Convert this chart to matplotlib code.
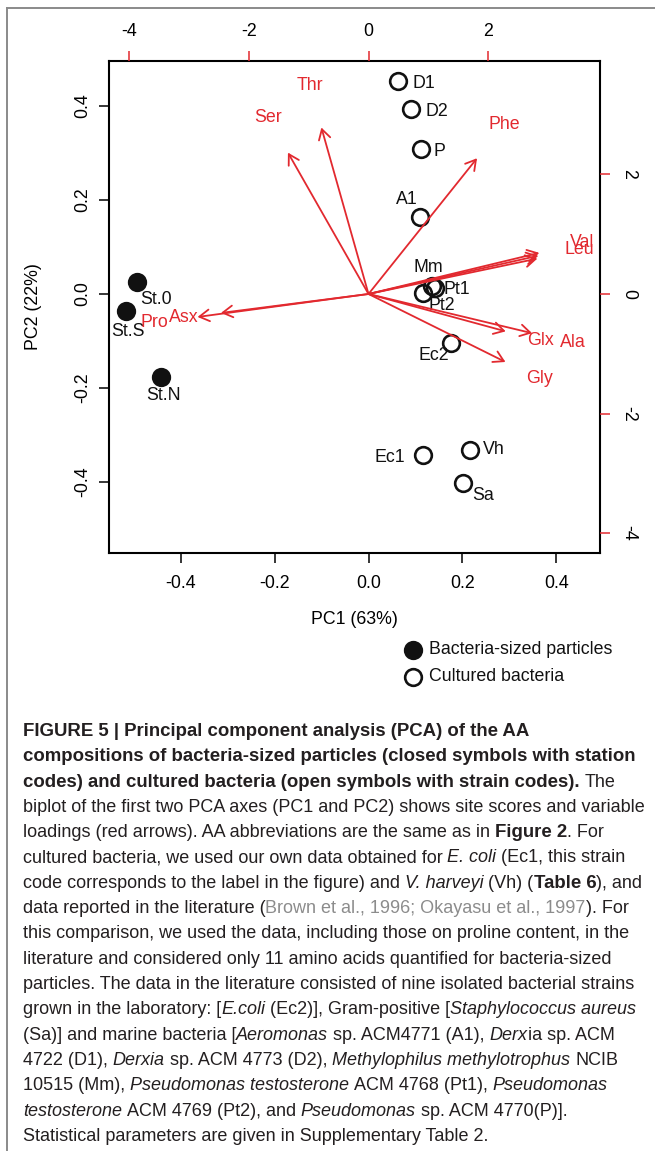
import numpy as np
import matplotlib
matplotlib.use('Agg')
import matplotlib.pyplot as plt
from matplotlib.lines import Line2D

plt.rcParams['font.family'] = ['Liberation Sans', 'DejaVu Sans']
plt.rcParams['axes.unicode_minus'] = False

# site scores (PC1, PC2)
sites = ['St.0', 'St.S', 'St.N', 'D1', 'D2', 'P', 'A1', 'Mm', 'Pt1', 'Pt2', 'Ec2', 'Ec1', 'Vh', 'Sa']
pc1 = [-0.492, -0.516, -0.442, 0.063, 0.090, 0.111, 0.109, 0.135, 0.141, 0.117, 0.175, 0.115, 0.216, 0.201]
pc2 = [0.026, -0.036, -0.177, 0.453, 0.394, 0.308, 0.164, 0.017, 0.012, 0.003, -0.104, -0.343, -0.332, -0.403]
closed = [True, True, True, False, False, False, False, False, False, False, False, False, False, False]

# variable loadings (top / right axes), arrows drawn to 0.8 of these
aa = ['Thr', 'Ser', 'Phe', 'Val', 'Ile', 'Leu', 'Glx', 'Ala', 'Gly', 'Asx', 'Pro']
load1 = [-0.985, -1.684, 2.269, 3.57, 3.55, 3.53, 2.868, 3.42, 2.863, -3.085, -3.574]
load2 = [3.48, 2.955, 2.838, 0.86, 0.80, 0.74, -0.781, -0.819, -1.421, -0.396, -0.48]
hidden_labels = ['Ile']  # sits under Val/Leu in the original

xticks1 = [-0.4, -0.2, 0.0, 0.2, 0.4]
ticks2 = [-4, -2, 0, 2]

# label placement for the site names (pixels: dx right, dy down, alignment)
lab_pos = {
    'St.0': (19, 18, 'center'), 'St.S': (1.5, 21, 'center'), 'St.N': (2.6, 18, 'center'),
    'D1': (14, 2, 'left'), 'D2': (15, 3, 'left'), 'P': (12.5, 2.5, 'left'),
    'A1': (-13, -17, 'center'), 'Mm': (-4, -19, 'center'), 'Pt1': (9, 1.5, 'left'),
    'Pt2': (18, 13, 'center'), 'Ec2': (-17, 13, 'center'), 'Ec1': (-17, 2.5, 'right'),
    'Vh': (13, -1, 'left'), 'Sa': (9, 12, 'left'),
}

red = '#e2292f'
fs = 12.8
W, H = 655, 1151

fig = plt.figure(figsize=(W / 100, H / 100), dpi=100)


def fx(x):
    return x / W


def fy(y):
    return 1 - y / H


box = [fx(109.3), fy(552.7), (600.3 - 109.3) / W, (552.7 - 61) / H]
ax = fig.add_axes(box)
xlim1 = (-0.5515, 0.4932)
ylim1 = (-0.5504, 0.4957)
k = 470 / 59.8
ax.set_xlim(xlim1)
ax.set_ylim(ylim1)
for s in ax.spines.values():
    s.set_linewidth(1.5)
ax.set_xticks(xticks1)
ax.set_xticklabels(['%.1f' % v for v in xticks1])
ax.set_yticks(xticks1)
ax.set_yticklabels(['%.1f' % v for v in xticks1])
ax.tick_params(axis='both', length=7.2, width=1.1, labelsize=fs)
ax.tick_params(axis='x', pad=8.5)
ax.tick_params(axis='y', pad=6, labelrotation=90)
for t in ax.get_yticklabels():
    t.set_va('center')
ax.set_xlabel('PC1 (63%)', fontsize=fs, labelpad=14)
ax.set_ylabel('PC2 (22%)', fontsize=fs, labelpad=23)

for name, x, y, c in zip(sites, pc1, pc2, closed):
    ax.plot(x, y, 'o', ms=12, mew=1.9, mec='#111111',
            mfc='#111111' if c else 'none', zorder=3)
    dx, dy, ha = lab_pos[name]
    ax.annotate(name, (x, y), xytext=(dx, -dy), textcoords='offset pixels',
                ha=ha, va='center', fontsize=fs, color='#111111')

ax2 = fig.add_axes(box, frameon=False)
ax2.patch.set_alpha(0)
ax2.set_xlim(xlim1[0] * k, xlim1[1] * k)
ax2.set_ylim(ylim1[0] * k, ylim1[1] * k)
ax2.xaxis.tick_top()
ax2.yaxis.tick_right()
ax2.set_xticks(ticks2)
ax2.set_yticks(ticks2)
ax2.set_xticklabels([str(v) for v in ticks2])
ax2.set_yticklabels([str(v) for v in ticks2])
ax2.tick_params(axis='both', length=7.2, width=1.1, color=red, labelcolor='black', labelsize=fs)
ax2.tick_params(axis='x', pad=8)
ax2.tick_params(axis='y', pad=7, labelrotation=-90)
for t in ax2.get_yticklabels():
    t.set_va('center')

for name, x, y in zip(aa, load1, load2):
    ax2.annotate('', xy=(0.8 * x, 0.8 * y), xytext=(0, 0),
                 arrowprops=dict(arrowstyle='->,head_length=0.72,head_width=0.42',
                                 color=red, lw=1.3, shrinkA=0, shrinkB=0,
                                 mutation_scale=10))
    if name not in hidden_labels:
        ax2.text(x, y, name, color=red, fontsize=fs, ha='center', va='center', clip_on=False)

# legend
leg_items = [('Bacteria-sized particles', True), ('Cultured bacteria', False)]
for i, (lab, c) in enumerate(leg_items):
    yy = 650 + 26.5 * i
    fig.add_artist(Line2D([fx(413.5)], [fy(yy)], marker='o', ms=12, mew=1.9,
                          mec='#111111', mfc='#111111' if c else 'none',
                          transform=fig.transFigure))
    fig.text(fx(429), fy(yy), lab, fontsize=fs, va='center', ha='left', color='#111111')

# outer frame of the figure panel
fig.add_artist(Line2D([fx(7.3), fx(7.3)], [fy(1151), fy(8.3)], color='#8a8a8a', lw=1.4,
                      transform=fig.transFigure))
fig.add_artist(Line2D([fx(7.3), fx(655)], [fy(8.3), fy(8.3)], color='#8a8a8a', lw=1.4,
                      transform=fig.transFigure))

# caption
caption = [
    [('FIGURE 5 | Principal component analysis (PCA) of the AA', 'b')],
    [('compositions of bacteria-sized particles (closed symbols with station', 'b')],
    [('codes) and cultured bacteria (open symbols with strain codes).', 'b'), (' The', 'n')],
    [('biplot of the first two PCA axes (PC1 and PC2) shows site scores and variable', 'n')],
    [('loadings (red arrows). AA abbreviations are the same as in ', 'n'), ('Figure 2', 'b'), ('. For', 'n')],
    [('cultured bacteria, we used our own data obtained for ', 'n'), ('E. coli', 'i'), (' (Ec1, this strain', 'n')],
    [('code corresponds to the label in the figure) and ', 'n'), ('V. harveyi', 'i'), (' (Vh) (', 'n'),
     ('Table 6', 'b'), ('), and', 'n')],
    [('data reported in the literature (', 'n'), ('Brown et al., 1996; Okayasu et al., 1997', 'g'), ('). For', 'n')],
    [('this comparison, we used the data, including those on proline content, in the', 'n')],
    [('literature and considered only 11 amino acids quantified for bacteria-sized', 'n')],
    [('particles. The data in the literature consisted of nine isolated bacterial strains', 'n')],
    [('grown in the laboratory: [', 'n'), ('E.coli', 'i'), (' (Ec2)], Gram-positive [', 'n'),
     ('Staphylococcus aureus', 'i')],
    [('(Sa)] and marine bacteria [', 'n'), ('Aeromonas', 'i'), (' sp. ACM4771 (A1), ', 'n'),
     ('Derx', 'i'), ('ia sp. ACM', 'n')],
    [('4722 (D1), ', 'n'), ('Derxia', 'i'), (' sp. ACM 4773 (D2), ', 'n'),
     ('Methylophilus methylotrophus', 'i'), (' NCIB', 'n')],
    [('10515 (Mm), ', 'n'), ('Pseudomonas testosterone', 'i'), (' ACM 4768 (Pt1), ', 'n'),
     ('Pseudomonas', 'i')],
    [('testosterone', 'i'), (' ACM 4769 (Pt2), and ', 'n'), ('Pseudomonas', 'i'), (' sp. ACM 4770(P)].', 'n')],
    [('Statistical parameters are given in Supplementary Table 2.', 'n')],
]

renderer = fig.canvas.get_renderer()
txt_col = '#231f20'


def style_kw(st, size_n, size_b):
    if st == 'b':
        return dict(fontsize=size_b, fontweight='bold', color=txt_col)
    if st == 'i':
        return dict(fontsize=size_n, fontstyle='italic', color=txt_col)
    if st == 'g':
        return dict(fontsize=size_n, color='#8c8c8c')
    return dict(fontsize=size_n, color=txt_col)


def measure(s, kw):
    t = fig.text(0, 0, s, **kw)
    w = t.get_window_extent(renderer).width
    t.remove()
    return w


# fit the font sizes to the widths of two reference lines
size_n = 10 * 623 / measure(caption[3][0][0], style_kw('n', 10, 10))
size_b = 10 * 614 / measure(caption[1][0][0], style_kw('b', 10, 10))


def draw_line(segs, y):
    x = 22.7
    for s, st in segs:
        kw = style_kw(st, size_n, size_b)
        sp = measure('a a', kw) - measure('aa', kw)
        core = s.strip(' ')
        lead = len(s) - len(s.lstrip(' '))
        trail = len(s) - len(s.rstrip(' '))
        x += lead * sp
        fig.text(fx(x), fy(y), core, ha='left', va='baseline', **kw)
        x += measure(core, kw) + trail * sp


for i, segs in enumerate(caption):
    draw_line(segs, 736 + 25.3 * i)

fig.savefig('out.png', dpi=100)
